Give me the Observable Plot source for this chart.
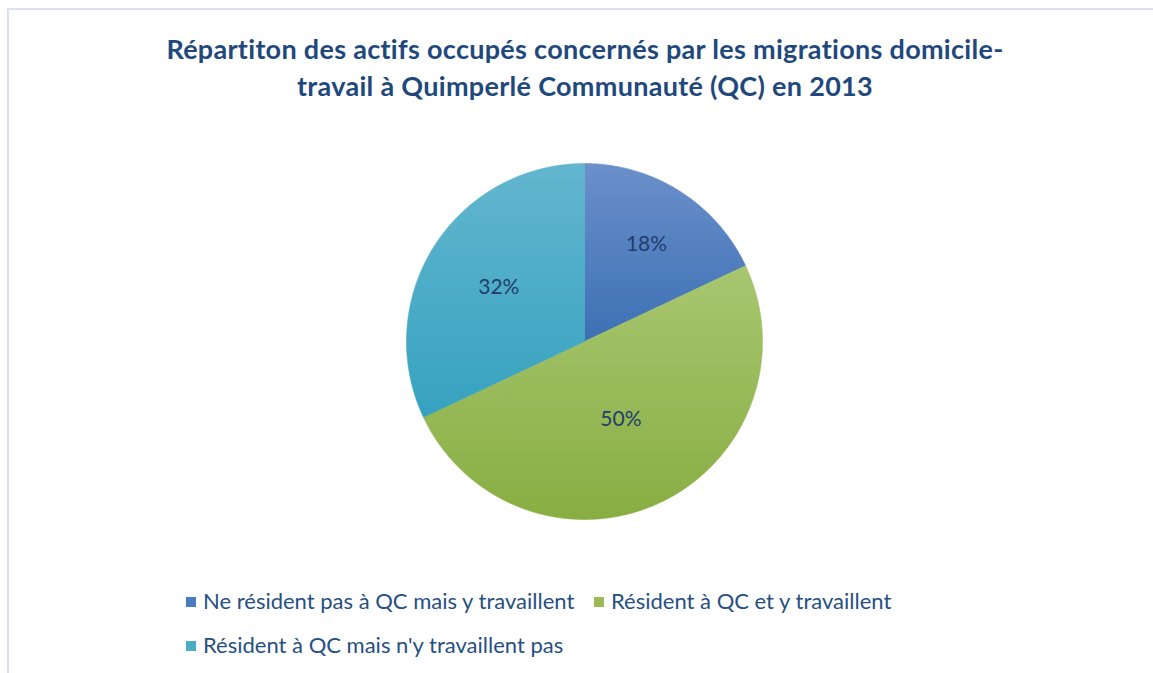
<!DOCTYPE html>
<html>
<head>
<meta charset="utf-8">
<script src="https://cdn.jsdelivr.net/npm/d3@7"></script>
<script src="https://cdn.jsdelivr.net/npm/@observablehq/plot@0.6"></script>
<style>
  html, body { margin: 0; padding: 0; background: #fff; }
  body { width: 1153px; height: 673px; position: relative; overflow: hidden; font-family: Lato, "Open Sans", sans-serif; }
  #frame { position: absolute; left: 7px; top: 8px; width: 1160px; height: 700px; border-left: 2px solid #D9E2F1; border-top: 2px solid #D9E2F1; }
  #title { position: absolute; left: 0; width: 1170px; top: 30px; text-align: center; font-weight: bold; font-size: 27px; letter-spacing: 0.3px; line-height: 37px; color: #1F497D; }
  #chart { position: absolute; left: 0; top: 140px; }
  .leg { position: absolute; font-size: 22px; color: #264F82; white-space: nowrap; line-height: 24px; }
  .sw { display: inline-block; width: 10px; height: 10px; margin-right: 7px; vertical-align: 2px; }
</style>
</head>
<body>
<div id="frame"></div>
<div id="title">Répartiton des actifs occupés concernés par les migrations domicile-<br>travail à Quimperlé Communauté (QC) en 2013</div>
<div id="chart"></div>
<div id="legend"></div>
<script>
const categories = [
  "Ne résident pas à QC mais y travaillent",
  "Résident à QC et y travaillent",
  "Résident à QC mais n'y travaillent pas"
];
const values = [18, 50, 32];
const labels = ["18%", "50%", "32%"];
const colorsTop = ["#6B90CA", "#A8C670", "#63B6CF"];
const colorsBottom = ["#3C70B4", "#88AE42", "#36A2BF"];
const legendColors = ["#4A7CC0", "#9BBB59", "#4BACC6"];

// layout config
const labelRadius = [0.65, 0.48, 0.57];

const pie = d3.pie().sort(null).value(d => d)(values);
const slices = pie.map((p, i) => {
  const pts = [{x: 0, y: 0}];
  const n = Math.max(2, Math.ceil((p.endAngle - p.startAngle) / 0.005));
  for (let k = 0; k <= n; k++) {
    const a = p.startAngle + (p.endAngle - p.startAngle) * k / n;
    pts.push({x: Math.sin(a), y: Math.cos(a)});
  }
  pts.push({x: 0, y: 0});
  return pts;
});
const labelData = pie.map((p, i) => {
  const a = (p.startAngle + p.endAngle) / 2;
  return {x: Math.sin(a) * labelRadius[i], y: Math.cos(a) * labelRadius[i], text: labels[i]};
});

const defs = () => {
  const d = d3.create("svg:defs");
  colorsTop.forEach((c, i) => {
    const g = d.append("linearGradient").attr("id", "g" + i)
      .attr("x1", 0).attr("y1", 0).attr("x2", 0).attr("y2", 1);
    g.append("stop").attr("offset", "0%").attr("stop-color", c);
    g.append("stop").attr("offset", "100%").attr("stop-color", colorsBottom[i]);
  });
  return d.node();
};

const chart = Plot.plot({
  width: 1153,
  height: 400,
  marginLeft: 406,
  marginRight: 391,
  marginTop: 23,
  marginBottom: 21,
  x: {domain: [-1, 1], axis: null},
  y: {domain: [-1, 1], axis: null},
  style: {background: "transparent", overflow: "visible"},
  marks: [
    defs,
    ...slices.map((s, i) => Plot.line(s, {x: "x", y: "y", fill: `url(#g${i})`, stroke: `url(#g${i})`, strokeWidth: 0.6, curve: "linear"})),
    Plot.text(labelData, {x: "x", y: "y", text: "text", fontSize: 21, fill: "#223E6C", fontFamily: "Lato, 'Open Sans', sans-serif"})
  ]
});
document.getElementById("chart").appendChild(chart);

const legend = document.getElementById("legend");
const legPos = [[186, 589], [594, 589], [186, 633]];
categories.forEach((c, i) => {
  const el = document.createElement("div");
  el.className = "leg";
  el.style.left = legPos[i][0] + "px";
  el.style.top = legPos[i][1] + "px";
  el.innerHTML = `<span class="sw" style="background:${legendColors[i]}"></span>` + c.replace(/'/g, "&#39;");
  legend.appendChild(el);
});
</script>
</body>
</html>
